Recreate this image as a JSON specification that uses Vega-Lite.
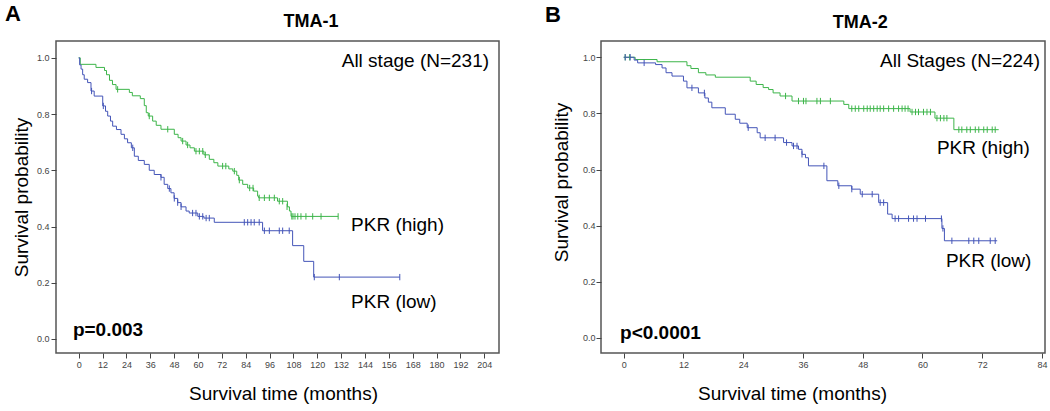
{
  "$schema": "https://vega.github.io/schema/vega-lite/v6.json",
  "padding": {"left": 4, "top": 2, "right": 2, "bottom": 2},
  "background": "white",
  "spacing": 44,
  "config": {
    "font": "Liberation Sans",
    "view": {"stroke": "#555", "strokeWidth": 1.5},
    "axis": {
      "domain": false, "grid": false, "tickSize": 5, "tickColor": "#444", "labelColor": "#444",
      "labelFontSize": 9, "labelFont": "Liberation Sans", "labelPadding": 2,
      "titleFont": "Liberation Sans", "titleFontSize": 19, "titleFontWeight": "normal", "titleColor": "#000"
    }
  },
  "datasets": {
    "a_curve": [
      {"g":"high","m":0,"s":1.0},{"g":"high","m":0.8,"s":0.977},{"g":"high","m":8.7,"s":0.966},{"g":"high","m":13,"s":0.955},{"g":"high","m":14,"s":0.94},{"g":"high","m":15.5,"s":0.92},{"g":"high","m":17,"s":0.905},{"g":"high","m":18.8,"s":0.888},{"g":"high","m":25.5,"s":0.877},{"g":"high","m":27,"s":0.865},{"g":"high","m":31,"s":0.855},{"g":"high","m":33,"s":0.83},{"g":"high","m":34,"s":0.805},{"g":"high","m":35,"s":0.793},{"g":"high","m":37.2,"s":0.775},{"g":"high","m":39,"s":0.76},{"g":"high","m":41.4,"s":0.746},{"g":"high","m":48.1,"s":0.728},{"g":"high","m":50,"s":0.716},{"g":"high","m":51.5,"s":0.704},{"g":"high","m":54,"s":0.69},{"g":"high","m":56,"s":0.68},{"g":"high","m":58.2,"s":0.668},{"g":"high","m":63,"s":0.655},{"g":"high","m":65.7,"s":0.639},{"g":"high","m":68,"s":0.627},{"g":"high","m":70,"s":0.615},{"g":"high","m":75.5,"s":0.605},{"g":"high","m":77.5,"s":0.597},{"g":"high","m":79.5,"s":0.582},{"g":"high","m":80.5,"s":0.565},{"g":"high","m":82.5,"s":0.55},{"g":"high","m":85,"s":0.537},{"g":"high","m":88,"s":0.526},{"g":"high","m":90,"s":0.508},{"g":"high","m":90.5,"s":0.502},{"g":"high","m":100,"s":0.49},{"g":"high","m":105,"s":0.47},{"g":"high","m":106,"s":0.455},{"g":"high","m":106.8,"s":0.436},{"g":"high","m":130.5,"s":0.436},
      {"g":"low","m":0,"s":1.0},{"g":"low","m":0.5,"s":0.975},{"g":"low","m":1.2,"s":0.96},{"g":"low","m":2,"s":0.94},{"g":"low","m":2.8,"s":0.924},{"g":"low","m":4.5,"s":0.912},{"g":"low","m":6.2,"s":0.882},{"g":"low","m":7.8,"s":0.864},{"g":"low","m":12.1,"s":0.829},{"g":"low","m":13.5,"s":0.81},{"g":"low","m":14.6,"s":0.793},{"g":"low","m":16,"s":0.775},{"g":"low","m":17.1,"s":0.757},{"g":"low","m":19,"s":0.745},{"g":"low","m":21.3,"s":0.728},{"g":"low","m":23,"s":0.712},{"g":"low","m":24.6,"s":0.698},{"g":"low","m":26.5,"s":0.68},{"g":"low","m":28,"s":0.65},{"g":"low","m":30,"s":0.635},{"g":"low","m":33,"s":0.621},{"g":"low","m":35.5,"s":0.6},{"g":"low","m":38,"s":0.585},{"g":"low","m":41.4,"s":0.575},{"g":"low","m":43,"s":0.55},{"g":"low","m":44.8,"s":0.535},{"g":"low","m":46.4,"s":0.52},{"g":"low","m":48,"s":0.5},{"g":"low","m":49.8,"s":0.485},{"g":"low","m":51.5,"s":0.47},{"g":"low","m":54,"s":0.455},{"g":"low","m":55.6,"s":0.448},{"g":"low","m":59.9,"s":0.436},{"g":"low","m":63,"s":0.43},{"g":"low","m":68.2,"s":0.415},{"g":"low","m":92.5,"s":0.385},{"g":"low","m":107.6,"s":0.332},{"g":"low","m":113.2,"s":0.276},{"g":"low","m":118.2,"s":0.22},{"g":"low","m":161.5,"s":0.22}
    ],
    "a_cens": [
      {"g":"high","m":19.6,"s":0.888},{"g":"high","m":35.5,"s":0.793},{"g":"high","m":44.8,"s":0.746},{"g":"high","m":52.3,"s":0.704},{"g":"high","m":54.8,"s":0.69},{"g":"high","m":59,"s":0.668},{"g":"high","m":60.7,"s":0.668},{"g":"high","m":62.4,"s":0.668},{"g":"high","m":63.7,"s":0.655},{"g":"high","m":72.4,"s":0.615},{"g":"high","m":74,"s":0.615},{"g":"high","m":78.3,"s":0.597},{"g":"high","m":80.8,"s":0.565},{"g":"high","m":86,"s":0.537},{"g":"high","m":87.7,"s":0.537},{"g":"high","m":90.8,"s":0.502},{"g":"high","m":93.4,"s":0.502},{"g":"high","m":95.9,"s":0.502},{"g":"high","m":98.4,"s":0.502},{"g":"high","m":100.9,"s":0.49},{"g":"high","m":102.6,"s":0.49},{"g":"high","m":104.8,"s":0.47},{"g":"high","m":107.2,"s":0.436},{"g":"high","m":107.8,"s":0.436},{"g":"high","m":108.8,"s":0.436},{"g":"high","m":110.2,"s":0.436},{"g":"high","m":111.8,"s":0.436},{"g":"high","m":114.3,"s":0.436},{"g":"high","m":117.7,"s":0.436},{"g":"high","m":121.9,"s":0.436},{"g":"high","m":130.5,"s":0.436},
      {"g":"low","m":6.5,"s":0.882},{"g":"low","m":12.4,"s":0.829},{"g":"low","m":27.2,"s":0.68},{"g":"low","m":41.4,"s":0.575},{"g":"low","m":45.6,"s":0.535},{"g":"low","m":48.1,"s":0.5},{"g":"low","m":49.8,"s":0.485},{"g":"low","m":51.5,"s":0.47},{"g":"low","m":57.3,"s":0.448},{"g":"low","m":59,"s":0.448},{"g":"low","m":60.7,"s":0.436},{"g":"low","m":62.4,"s":0.436},{"g":"low","m":64.1,"s":0.43},{"g":"low","m":65.7,"s":0.43},{"g":"low","m":83.3,"s":0.415},{"g":"low","m":85,"s":0.415},{"g":"low","m":86.7,"s":0.415},{"g":"low","m":88.3,"s":0.415},{"g":"low","m":90.8,"s":0.415},{"g":"low","m":93.4,"s":0.385},{"g":"low","m":95.9,"s":0.385},{"g":"low","m":100.9,"s":0.385},{"g":"low","m":102.6,"s":0.385},{"g":"low","m":105.9,"s":0.385},{"g":"low","m":118.5,"s":0.22},{"g":"low","m":131.1,"s":0.22},{"g":"low","m":161.5,"s":0.22}
    ],
    "b_curve": [
      {"g":"high","m":0,"s":1.0},{"g":"high","m":2.3,"s":0.992},{"g":"high","m":6.7,"s":0.984},{"g":"high","m":12.7,"s":0.97},{"g":"high","m":13.5,"s":0.96},{"g":"high","m":15,"s":0.945},{"g":"high","m":16.5,"s":0.937},{"g":"high","m":18.4,"s":0.929},{"g":"high","m":25.4,"s":0.915},{"g":"high","m":26.6,"s":0.903},{"g":"high","m":28,"s":0.892},{"g":"high","m":29.1,"s":0.885},{"g":"high","m":30,"s":0.873},{"g":"high","m":31.4,"s":0.862},{"g":"high","m":33.8,"s":0.844},{"g":"high","m":44.2,"s":0.832},{"g":"high","m":45.2,"s":0.817},{"g":"high","m":57.5,"s":0.805},{"g":"high","m":62.5,"s":0.783},{"g":"high","m":66.3,"s":0.742},{"g":"high","m":75.3,"s":0.742},
      {"g":"low","m":0,"s":1.0},{"g":"low","m":2.1,"s":0.99},{"g":"low","m":2.8,"s":0.98},{"g":"low","m":6.4,"s":0.974},{"g":"low","m":7.7,"s":0.962},{"g":"low","m":8.5,"s":0.945},{"g":"low","m":9.7,"s":0.933},{"g":"low","m":12,"s":0.915},{"g":"low","m":12.7,"s":0.891},{"g":"low","m":15,"s":0.873},{"g":"low","m":16.3,"s":0.855},{"g":"low","m":17,"s":0.84},{"g":"low","m":17.7,"s":0.82},{"g":"low","m":20.4,"s":0.797},{"g":"low","m":22.4,"s":0.779},{"g":"low","m":23.3,"s":0.765},{"g":"low","m":24.8,"s":0.749},{"g":"low","m":26.8,"s":0.731},{"g":"low","m":27.4,"s":0.713},{"g":"low","m":32.1,"s":0.696},{"g":"low","m":33.8,"s":0.684},{"g":"low","m":35.1,"s":0.672},{"g":"low","m":35.8,"s":0.654},{"g":"low","m":36.5,"s":0.642},{"g":"low","m":37.1,"s":0.613},{"g":"low","m":40.8,"s":0.56},{"g":"low","m":43,"s":0.542},{"g":"low","m":45.8,"s":0.53},{"g":"low","m":47.5,"s":0.512},{"g":"low","m":51.2,"s":0.482},{"g":"low","m":53,"s":0.441},{"g":"low","m":53.9,"s":0.425},{"g":"low","m":63.9,"s":0.39},{"g":"low","m":64.4,"s":0.346},{"g":"low","m":75,"s":0.346}
    ],
    "b_cens": [
      {"g":"high","m":0.3,"s":1.0},{"g":"high","m":1.2,"s":1.0},{"g":"high","m":32.5,"s":0.862},{"g":"high","m":35.1,"s":0.844},{"g":"high","m":36.1,"s":0.844},{"g":"high","m":36.6,"s":0.844},{"g":"high","m":38.8,"s":0.844},{"g":"high","m":39.5,"s":0.844},{"g":"high","m":41.5,"s":0.844},{"g":"high","m":45.8,"s":0.817},{"g":"high","m":46.5,"s":0.817},{"g":"high","m":47.2,"s":0.817},{"g":"high","m":48.2,"s":0.817},{"g":"high","m":48.9,"s":0.817},{"g":"high","m":49.5,"s":0.817},{"g":"high","m":50.2,"s":0.817},{"g":"high","m":50.9,"s":0.817},{"g":"high","m":51.5,"s":0.817},{"g":"high","m":52.2,"s":0.817},{"g":"high","m":53.2,"s":0.817},{"g":"high","m":54.2,"s":0.817},{"g":"high","m":55.2,"s":0.817},{"g":"high","m":55.9,"s":0.817},{"g":"high","m":56.5,"s":0.817},{"g":"high","m":57.1,"s":0.817},{"g":"high","m":57.9,"s":0.805},{"g":"high","m":58.6,"s":0.805},{"g":"high","m":59.2,"s":0.805},{"g":"high","m":60.2,"s":0.805},{"g":"high","m":60.9,"s":0.805},{"g":"high","m":61.6,"s":0.805},{"g":"high","m":62.9,"s":0.783},{"g":"high","m":63.6,"s":0.783},{"g":"high","m":64.3,"s":0.783},{"g":"high","m":64.9,"s":0.783},{"g":"high","m":67.3,"s":0.742},{"g":"high","m":67.9,"s":0.742},{"g":"high","m":68.9,"s":0.742},{"g":"high","m":69.6,"s":0.742},{"g":"high","m":70.6,"s":0.742},{"g":"high","m":71.3,"s":0.742},{"g":"high","m":72.3,"s":0.742},{"g":"high","m":73,"s":0.742},{"g":"high","m":74,"s":0.742},{"g":"high","m":74.6,"s":0.742},
      {"g":"low","m":0.3,"s":1.0},{"g":"low","m":1.3,"s":1.0},{"g":"low","m":4.1,"s":0.98},{"g":"low","m":13.7,"s":0.891},{"g":"low","m":16.2,"s":0.873},{"g":"low","m":25,"s":0.749},{"g":"low","m":28.4,"s":0.713},{"g":"low","m":30.4,"s":0.713},{"g":"low","m":32.7,"s":0.696},{"g":"low","m":34.1,"s":0.684},{"g":"low","m":34.8,"s":0.684},{"g":"low","m":35.8,"s":0.654},{"g":"low","m":40.2,"s":0.613},{"g":"low","m":43.2,"s":0.542},{"g":"low","m":45.8,"s":0.53},{"g":"low","m":47.9,"s":0.512},{"g":"low","m":49.9,"s":0.512},{"g":"low","m":51.5,"s":0.482},{"g":"low","m":52.2,"s":0.482},{"g":"low","m":54.5,"s":0.425},{"g":"low","m":55.2,"s":0.425},{"g":"low","m":57.2,"s":0.425},{"g":"low","m":58.2,"s":0.425},{"g":"low","m":58.9,"s":0.425},{"g":"low","m":60.6,"s":0.425},{"g":"low","m":63.8,"s":0.425},{"g":"low","m":64.1,"s":0.39},{"g":"low","m":65.9,"s":0.346},{"g":"low","m":69.3,"s":0.346},{"g":"low","m":70.3,"s":0.346},{"g":"low","m":71.3,"s":0.346},{"g":"low","m":73.6,"s":0.346},{"g":"low","m":74.6,"s":0.346}
    ]
  },
  "resolve": {"scale": {"x": "independent", "y": "independent"}},
  "hconcat": [
    {
      "width": 443, "height": 312,
      "encoding": {
        "x": {"field": "m", "type": "quantitative", "scale": {"domain": [-11.4, 211.4], "nice": false, "zero": false},
          "axis": {"values": [0,12,24,36,48,60,72,84,96,108,120,132,144,156,168,180,192,204], "title": "Survival time (months)", "titlePadding": 15, "titleX": 227}},
        "y": {"field": "s", "type": "quantitative", "scale": {"domain": [-0.05, 1.06], "nice": false, "zero": false},
          "axis": {"values": [0,0.2,0.4,0.6,0.8,1.0], "format": ".1f", "title": "Survival probability", "titlePadding": 5}}
      },
      "layer": [
        {"data": {"name": "a_curve"}, "mark": {"type": "line", "interpolate": "step-after", "strokeWidth": 1},
          "encoding": {"color": {"field": "g", "type": "nominal", "scale": {"domain": ["high","low"], "range": ["#3DB54A","#4455B8"]}, "legend": null}}},
        {"data": {"name": "a_cens"}, "mark": {"type": "point", "shape": "M0,-1L0,1", "size": 40, "strokeWidth": 1, "filled": false, "opacity": 1},
          "encoding": {"color": {"field": "g", "type": "nominal", "legend": null}}},
        {"data": {"values": [{"m": 137, "s": 0.407, "t": "PKR (high)"}, {"m": 137, "s": 0.132, "t": "PKR (low)"}]},
          "mark": {"type": "text", "align": "left", "baseline": "middle", "fontSize": 19, "color": "#000"}, "encoding": {"text": {"field": "t"}}},
        {"data": {"values": [{"m": 206.4, "s": 0.988, "t": "All stage (N=231)"}]},
          "mark": {"type": "text", "align": "right", "baseline": "middle", "fontSize": 19, "color": "#000"}, "encoding": {"text": {"field": "t"}}},
        {"data": {"values": [{"m": -2.9, "s": 0.032, "t": "p=0.003"}]},
          "mark": {"type": "text", "align": "left", "baseline": "middle", "fontSize": 19, "fontWeight": "bold", "color": "#000"}, "encoding": {"text": {"field": "t"}}},
        {"data": {"values": [{"m": 116.9, "s": 1.128, "t": "TMA-1"}]},
          "mark": {"type": "text", "align": "center", "baseline": "middle", "fontSize": 18, "fontWeight": "bold", "color": "#000"}, "encoding": {"text": {"field": "t"}}},
        {"data": {"values": [{"m": -37.1, "s": 1.156, "t": "A"}]},
          "mark": {"type": "text", "align": "left", "baseline": "middle", "fontSize": 22, "fontWeight": "bold", "color": "#000"}, "encoding": {"text": {"field": "t"}}}
      ]
    },
    {
      "width": 444, "height": 312,
      "encoding": {
        "x": {"field": "m", "type": "quantitative", "scale": {"domain": [-4.56, 84.6], "nice": false, "zero": false},
          "axis": {"values": [0,12,24,36,48,60,72,84], "title": "Survival time (months)", "titlePadding": 15, "titleX": 191}},
        "y": {"field": "s", "type": "quantitative", "scale": {"domain": [-0.054, 1.058], "nice": false, "zero": false},
          "axis": {"values": [0,0.2,0.4,0.6,0.8,1.0], "format": ".1f", "title": "Survival probability", "titlePadding": 11, "labelPadding": 1, "titleY": 141}}
      },
      "layer": [
        {"data": {"name": "b_curve"}, "mark": {"type": "line", "interpolate": "step-after", "strokeWidth": 1},
          "encoding": {"color": {"field": "g", "type": "nominal", "scale": {"domain": ["high","low"], "range": ["#3DB54A","#4455B8"]}, "legend": null}}},
        {"data": {"name": "b_cens"}, "mark": {"type": "point", "shape": "M0,-1L0,1", "size": 40, "strokeWidth": 1, "filled": false, "opacity": 1},
          "encoding": {"color": {"field": "g", "type": "nominal", "legend": null}}},
        {"data": {"values": [{"m": 62.9, "s": 0.678, "t": "PKR (high)"}, {"m": 64.7, "s": 0.273, "t": "PKR (low)"}]},
          "mark": {"type": "text", "align": "left", "baseline": "middle", "fontSize": 19, "color": "#000"}, "encoding": {"text": {"field": "t"}}},
        {"data": {"values": [{"m": 83.6, "s": 0.987, "t": "All Stages (N=224)"}]},
          "mark": {"type": "text", "align": "right", "baseline": "middle", "fontSize": 19, "color": "#000"}, "encoding": {"text": {"field": "t"}}},
        {"data": {"values": [{"m": -0.74, "s": 0.017, "t": "p<0.0001"}]},
          "mark": {"type": "text", "align": "left", "baseline": "middle", "fontSize": 19, "fontWeight": "bold", "color": "#000"}, "encoding": {"text": {"field": "t"}}},
        {"data": {"values": [{"m": 47.5, "s": 1.122, "t": "TMA-2"}]},
          "mark": {"type": "text", "align": "center", "baseline": "middle", "fontSize": 18, "fontWeight": "bold", "color": "#000"}, "encoding": {"text": {"field": "t"}}},
        {"data": {"values": [{"m": -15.8, "s": 1.149, "t": "B"}]},
          "mark": {"type": "text", "align": "left", "baseline": "middle", "fontSize": 22, "fontWeight": "bold", "color": "#000"}, "encoding": {"text": {"field": "t"}}}
      ]
    }
  ]
}
